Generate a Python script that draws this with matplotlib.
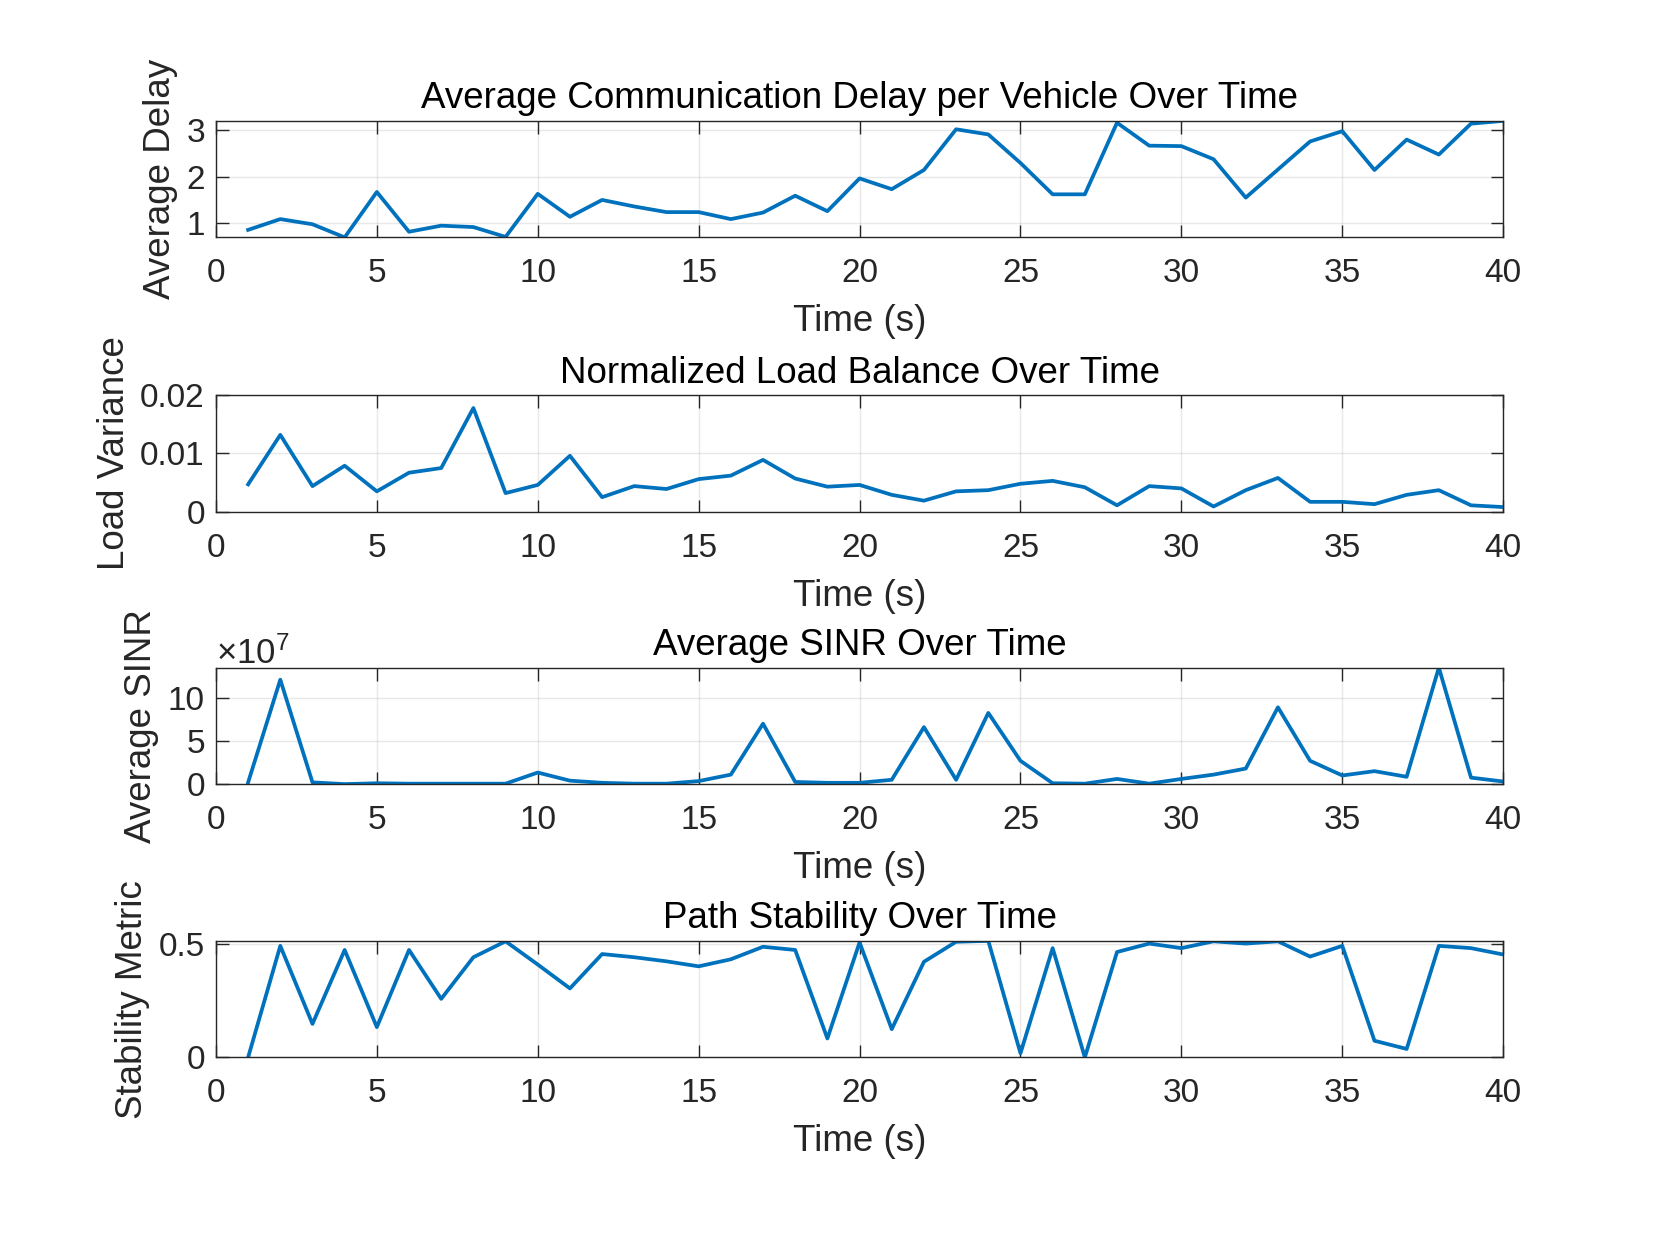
import matplotlib
matplotlib.use("Agg")
import matplotlib.pyplot as plt
from matplotlib.ticker import MultipleLocator, ScalarFormatter

plt.rcParams['font.family'] = ['Liberation Sans', 'DejaVu Sans']
plt.rcParams['mathtext.fontset'] = 'custom'
plt.rcParams['mathtext.rm'] = 'Liberation Sans'
plt.rcParams['mathtext.it'] = 'Liberation Sans'

# czas symulacji (s)
time_s = list(range(1, 41))

avg_delay = [0.86, 1.09, 0.98, 0.70, 1.67, 0.82, 0.95, 0.92, 0.71, 1.63,
             1.14, 1.50, 1.36, 1.24, 1.24, 1.09, 1.23, 1.59, 1.26, 1.96,
             1.73, 2.14, 3.01, 2.90, 2.29, 1.62, 1.62, 3.15, 2.66, 2.65,
             2.37, 1.55, 2.15, 2.75, 2.97, 2.14, 2.79, 2.47, 3.13, 3.19]

load_variance = [0.0047, 0.0132, 0.0044, 0.0079, 0.0035, 0.0067, 0.0075, 0.0178, 0.0032, 0.0046,
                 0.0096, 0.0025, 0.0044, 0.0039, 0.0056, 0.0062, 0.0089, 0.0057, 0.0043, 0.0046,
                 0.0029, 0.0019, 0.0035, 0.0037, 0.0048, 0.0053, 0.0042, 0.0011, 0.0044, 0.0040,
                 0.0009, 0.0037, 0.0058, 0.0017, 0.0017, 0.0013, 0.0029, 0.0037, 0.0011, 0.0008]

# srednie SINR w jednostkach 1e7
avg_sinr_e7 = [0.2, 12.1, 0.2, 0.0, 0.1, 0.05, 0.05, 0.05, 0.05, 1.34,
               0.4, 0.15, 0.05, 0.05, 0.35, 1.1, 7.0, 0.25, 0.15, 0.15,
               0.5, 6.6, 0.5, 8.25, 2.7, 0.1, 0.05, 0.6, 0.05, 0.6,
               1.1, 1.8, 8.9, 2.7, 1.0, 1.5, 0.85, 13.5, 0.75, 0.3]

stability = [0.0, 0.49, 0.147, 0.472, 0.133, 0.472, 0.257, 0.44, 0.51, 0.408,
             0.303, 0.454, 0.44, 0.422, 0.40, 0.431, 0.486, 0.472, 0.083, 0.505,
             0.124, 0.42, 0.508, 0.512, 0.018, 0.48, 0.0, 0.463, 0.50, 0.48,
             0.51, 0.50, 0.51, 0.443, 0.49, 0.073, 0.037, 0.49, 0.48, 0.452]

sinr = [v * 1e7 for v in avg_sinr_e7]

titles = ["Average Communication Delay per Vehicle Over Time",
          "Normalized Load Balance Over Time",
          "Average SINR Over Time",
          "Path Stability Over Time"]
ylabels = ["Average Delay", "Load Variance", "Average SINR", "Stability Metric"]
series = [avg_delay, load_variance, sinr, stability]

line_color = '#0072BD'
axis_color = '#262626'


class FixedOrderFormatter(ScalarFormatter):
    # staly wykladnik jak w MATLAB (x10^7)
    def __init__(self, order):
        self.fixed_order = order
        super().__init__(useMathText=True)

    def _set_order_of_magnitude(self):
        self.orderOfMagnitude = self.fixed_order

    def _set_format(self):
        self.format = '%1.0f'


fig = plt.figure(figsize=(16.61, 12.46), dpi=100)
bottoms = [0.8095, 0.5893, 0.3707, 0.1514]
height = 0.0935

axes = []
for i in range(4):
    ax = fig.add_axes([0.13, bottoms[i], 0.775, height])
    ax.plot(time_s, series[i], color=line_color, linewidth=2.7)
    ax.set_xlim(0, 40)
    ax.xaxis.set_major_locator(MultipleLocator(5))
    ax.set_title(titles[i], fontsize=26.5, pad=9, color='black')
    ax.set_xlabel("Time (s)", fontsize=26.5, color=axis_color, labelpad=11)
    ax.set_ylabel(ylabels[i], fontsize=26.5, color=axis_color, labelpad=6)
    ax.grid(True, color='#262626', alpha=0.1, linewidth=1.0)
    ax.tick_params(direction='in', length=9, width=1.0, labelsize=24,
                   colors=axis_color, top=True, right=True)
    ax.tick_params(axis='x', pad=15)
    ax.tick_params(axis='y', pad=8)
    for s in ax.spines.values():
        s.set_color(axis_color)
        s.set_linewidth(1.0)
    axes.append(ax)

axes[0].set_ylim(min(avg_delay), max(avg_delay))
axes[0].yaxis.set_major_locator(MultipleLocator(1))

axes[1].set_ylim(0, 0.02)
axes[1].set_yticks([0, 0.01, 0.02])
axes[1].set_yticklabels(["0", "0.01", "0.02"])

axes[2].set_ylim(0, max(sinr))
axes[2].yaxis.set_major_locator(MultipleLocator(5e7))
axes[2].yaxis.set_major_formatter(FixedOrderFormatter(7))
axes[2].yaxis.get_offset_text().set_fontsize(25)
axes[2].yaxis.get_offset_text().set_color(axis_color)

axes[3].set_ylim(0, max(stability))
axes[3].set_yticks([0, 0.5])
axes[3].set_yticklabels(["0", "0.5"])

fig.savefig("out.png", dpi=100)
